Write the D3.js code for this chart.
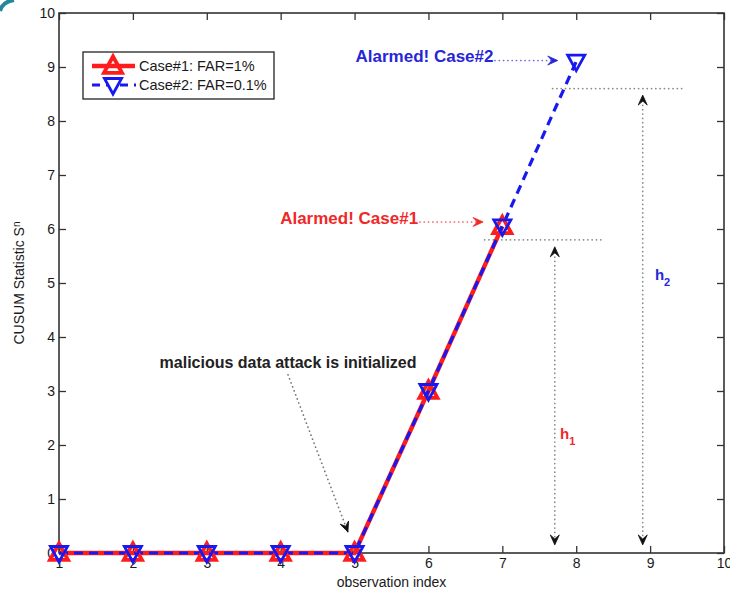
<!DOCTYPE html>
<html>
<head>
<meta charset="utf-8">
<script src="https://cdn.jsdelivr.net/npm/d3@7"></script>
<style>
  body { margin: 0; background: #fff; }
  svg { display: block; font-family: "Liberation Sans", Arial, sans-serif; }
</style>
</head>
<body>
<script>
// data
const obsIndex1 = [1, 2, 3, 4, 5, 6, 7];
const case1 = [0, 0, 0, 0, 0, 3, 6.05];
const obsIndex2 = [1, 2, 3, 4, 5, 6, 7, 8];
const case2 = [0, 0, 0, 0, 0, 3, 6.05, 9.1];
const xTicks = [1, 2, 3, 4, 5, 6, 7, 8, 9, 10];
const yTicks = [0, 1, 2, 3, 4, 5, 6, 7, 8, 9, 10];
const thresholds = [5.8, 8.6];        // h1, h2
const legendLabels = ["Case#1: FAR=1%", "Case#2: FAR=0.1%"];

const width = 730, height = 592;
const m = { left: 59, right: 6, top: 13, bottom: 39 };

const red = "#ff1c1c", blue = "#1818f0";

const svg = d3.select("body").append("svg")
  .attr("width", width)
  .attr("height", height);

const x = d3.scaleLinear().domain([1, 10]).range([m.left, width - m.right]);
const y = d3.scaleLinear().domain([0, 10]).range([height - m.bottom, m.top]);

// teal corner from the screenshot
svg.append("path")
  .attr("d", "M0,11 Q2,2 14,0")
  .attr("fill", "none")
  .attr("stroke", "#23899a")
  .attr("stroke-width", 4);

// axes, ticks pointing inward
const axisColor = "#333";
function styleAxis(g) {
  g.select(".domain").remove();
  g.selectAll(".tick line").attr("stroke", axisColor).attr("stroke-width", 1.3);
  g.selectAll(".tick text").attr("fill", "#1a1a1a").style("font-size", "14px")
    .style("font-family", '"Liberation Sans", Arial, sans-serif');
}

svg.append("g")
  .attr("transform", `translate(0,${y(0)})`)
  .call(d3.axisBottom(x).tickValues(xTicks).tickSize(-7).tickPadding(5).tickFormat(d3.format("d")))
  .call(styleAxis);
svg.append("g")
  .attr("transform", `translate(0,${y(10)})`)
  .call(d3.axisTop(x).tickValues(xTicks).tickSize(-7).tickFormat(""))
  .call(styleAxis);
svg.append("g")
  .attr("transform", `translate(${x(1)},0)`)
  .call(d3.axisLeft(y).tickValues(yTicks).tickSize(-7).tickPadding(4).tickFormat(d3.format("d")))
  .call(styleAxis);
svg.append("g")
  .attr("transform", `translate(${x(10)},0)`)
  .call(d3.axisRight(y).tickValues(yTicks).tickSize(-7).tickFormat(""))
  .call(styleAxis);

svg.append("rect")
  .attr("x", x(1)).attr("y", y(10))
  .attr("width", x(10) - x(1)).attr("height", y(0) - y(10))
  .attr("fill", "none")
  .attr("stroke", axisColor)
  .attr("stroke-width", 1.6);

// axis labels
svg.append("text")
  .attr("x", (x(1) + x(10)) / 2)
  .attr("y", 587)
  .attr("text-anchor", "middle")
  .style("font-size", "14px")
  .attr("fill", "#1a1a1a")
  .text("observation index");

const yLab = svg.append("text")
  .attr("transform", `translate(24,${(y(0) + y(10)) / 2}) rotate(-90)`)
  .attr("text-anchor", "middle")
  .style("font-size", "14px")
  .attr("fill", "#1a1a1a");
yLab.append("tspan").text("CUSUM Statistic S");
yLab.append("tspan").attr("dy", -4).style("font-size", "10px").text("n");

// helpers
const triUp = s => `M0,${-s}L${s * 0.95},${s * 0.72}L${-s * 0.95},${s * 0.72}Z`;
const triDown = s => `M0,${s}L${s * 0.95},${-s * 0.72}L${-s * 0.95},${-s * 0.72}Z`;

function arrowHead(px, py, angle, color) {
  svg.append("path")
    .attr("d", "M0,0L-10,-4.5L-6,0L-10,4.5Z")
    .attr("transform", `translate(${px},${py}) rotate(${angle})`)
    .attr("fill", color)
    .attr("stroke", color)
    .attr("stroke-width", 0.8)
    .attr("stroke-linejoin", "miter");
}

function dotted(x1, y1, x2, y2, color) {
  svg.append("line")
    .attr("x1", x1).attr("y1", y1).attr("x2", x2).attr("y2", y2)
    .attr("stroke", color)
    .attr("stroke-width", 1.7)
    .attr("stroke-linecap", "round")
    .attr("stroke-dasharray", "0.1,4.2");
}

function dottedArrow(x1, y1, x2, y2, color, headColor) {
  dotted(x1, y1, x2, y2, color);
  const ang = Math.atan2(y2 - y1, x2 - x1) * 180 / Math.PI;
  arrowHead(x2, y2, ang, headColor);
}

// threshold guides
const dotGray = "#8a8a8a";
dotted(x(6.76), y(thresholds[0]), x(8.36), y(thresholds[0]), dotGray);
dotted(x(7.68), y(thresholds[1]), x(9.45), y(thresholds[1]), dotGray);

// h1 / h2 double arrows
[[7.71, thresholds[0] - 0.13], [8.9, thresholds[1] - 0.12]].forEach(([hx, top]) => {
  dotted(x(hx), y(top) + 6, x(hx), y(0.15) - 6, dotGray);
  arrowHead(x(hx), y(top), -90, "#111");
  arrowHead(x(hx), y(0.15), 90, "#111");
});

// series lines
const line = d3.line().x(d => x(d[0])).y(d => y(d[1]));
const pts1 = obsIndex1.map((d, i) => [d, case1[i]]);
const pts2 = obsIndex2.map((d, i) => [d, case2[i]]);

svg.append("path")
  .datum(pts1)
  .attr("d", line)
  .attr("fill", "none")
  .attr("stroke", red)
  .attr("stroke-width", 4.4);

svg.append("path")
  .datum(pts2)
  .attr("d", line)
  .attr("fill", "none")
  .attr("stroke", blue)
  .attr("stroke-width", 3.2)
  .attr("stroke-dasharray", "9,6");

// markers
svg.selectAll(".m1")
  .data(pts1)
  .join("path")
  .attr("class", "m1")
  .attr("transform", d => `translate(${x(d[0])},${y(d[1])})`)
  .attr("d", triUp(9.5))
  .attr("fill", "none")
  .attr("stroke", red)
  .attr("stroke-width", 3.8)
  .attr("stroke-linejoin", "miter");

svg.selectAll(".m2")
  .data(pts2)
  .join("path")
  .attr("class", "m2")
  .attr("transform", d => `translate(${x(d[0])},${y(d[1])})`)
  .attr("d", triDown(9))
  .attr("fill", "none")
  .attr("stroke", blue)
  .attr("stroke-width", 2.8)
  .attr("stroke-linejoin", "miter");

// annotations
svg.append("text")
  .attr("x", x(4.1))
  .attr("y", y(3.43))
  .attr("text-anchor", "middle")
  .style("font-size", "16px")
  .style("font-weight", "bold")
  .attr("fill", "#222")
  .text("malicious data attack is initialized");
dottedArrow(x(4.1), y(3.3), x(4.91), y(0.39), "#777", "#111");

svg.append("text")
  .attr("x", x(6.88))
  .attr("y", y(9.1))
  .attr("text-anchor", "end")
  .style("font-size", "17px")
  .style("font-weight", "bold")
  .attr("fill", "#2626d8")
  .text("Alarmed! Case#2");
dottedArrow(x(6.9), y(9.12), x(7.75), y(9.12), "#6a6ae8", "#2626d8");

svg.append("text")
  .attr("x", x(5.86))
  .attr("y", y(6.1))
  .attr("text-anchor", "end")
  .style("font-size", "17px")
  .style("font-weight", "bold")
  .attr("fill", "#f02828")
  .text("Alarmed! Case#1");
dottedArrow(x(5.885), y(6.13), x(6.74), y(6.13), "#f26060", "#f02828");

function hLabel(hx, hy, sub, color) {
  const t = svg.append("text")
    .attr("x", x(hx)).attr("y", y(hy))
    .style("font-size", "15px")
    .style("font-weight", "bold")
    .attr("fill", color);
  t.append("tspan").text("h");
  t.append("tspan").attr("dy", 6).style("font-size", "11px").text(sub);
}
hLabel(7.78, 2.11, "1", "#f02828");
hLabel(9.065, 5.06, "2", "#2626d8");

// legend
const lg = svg.append("g");
lg.append("rect")
  .attr("x", 83).attr("y", 52)
  .attr("width", 191).attr("height", 47)
  .attr("fill", "#fff")
  .attr("stroke", "#222")
  .attr("stroke-width", 1.3);

lg.append("line")
  .attr("x1", 92).attr("x2", 135).attr("y1", 66).attr("y2", 66)
  .attr("stroke", red).attr("stroke-width", 4.4);
lg.append("path")
  .attr("transform", "translate(113,66)")
  .attr("d", triUp(9.5))
  .attr("fill", "none").attr("stroke", red).attr("stroke-width", 3.8);

lg.append("line")
  .attr("x1", 92).attr("x2", 136).attr("y1", 85).attr("y2", 85)
  .attr("stroke", blue).attr("stroke-width", 3.2)
  .attr("stroke-dasharray", "8,6");
lg.append("path")
  .attr("transform", "translate(113,85)")
  .attr("d", triDown(9))
  .attr("fill", "#fff").attr("stroke", blue).attr("stroke-width", 2.8);

lg.selectAll(".lt")
  .data(legendLabels)
  .join("text")
  .attr("class", "lt")
  .attr("x", 139)
  .attr("y", (d, i) => 71 + i * 19)
  .style("font-size", "14.5px")
  .attr("fill", "#1a1a1a")
  .text(d => d);
</script>
</body>
</html>
